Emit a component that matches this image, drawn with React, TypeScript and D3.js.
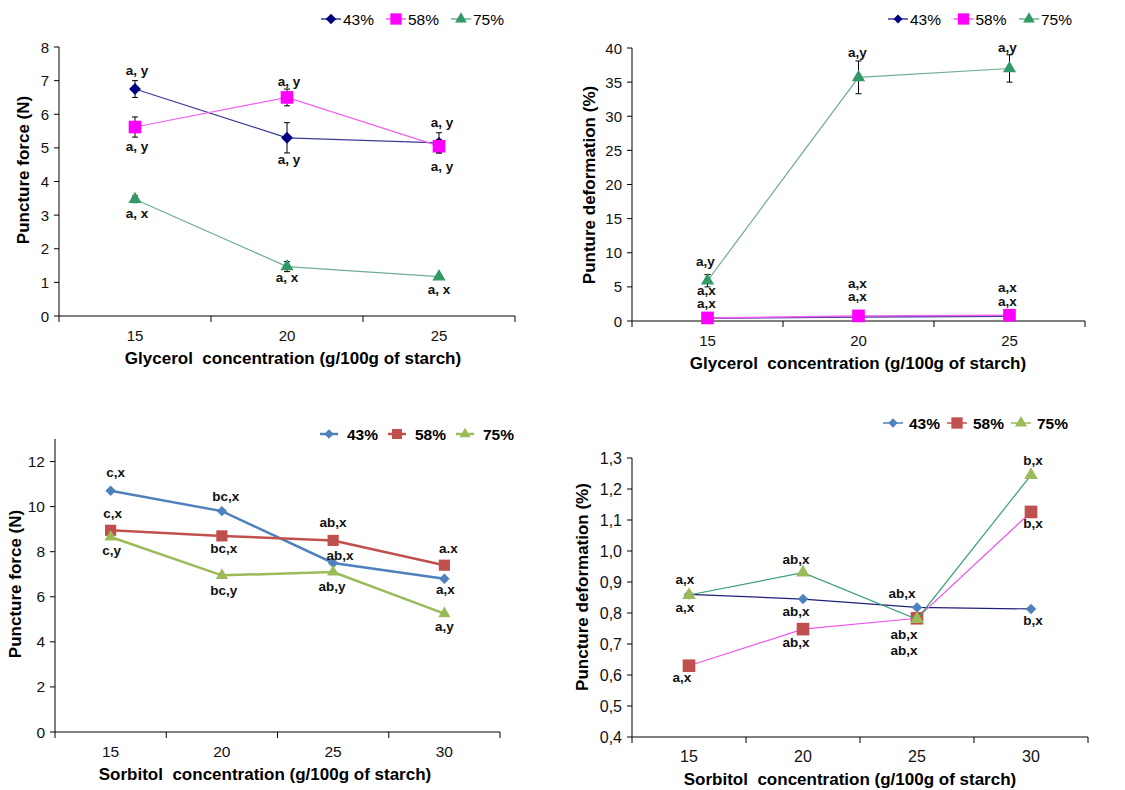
import * as d3 from "d3";

const glyCats = ["15", "20", "25"];
const sorCats = ["15", "20", "25", "30"];
const seriesNames = ["43%", "58%", "75%"];

// glycerol - puncture force (N)
const gForce43 = [6.75, 5.3, 5.15];
const gForce43Err = [0.25, 0.45, 0.3];
const gForce58 = [5.62, 6.5, 5.05];
const gForce58Err = [0.3, 0.25, 0.2];
const gForce75 = [3.47, 1.47, 1.17];
const gForce75Err = [0.1, 0.15, 0.05];

// glycerol - puncture deformation (%)
const gDef43 = [0.4, 0.6, 0.7];
const gDef58 = [0.45, 0.75, 0.85];
const gDef75 = [5.9, 35.7, 37.0];
const gDef75Err = [0.9, 2.4, 2.0];

// sorbitol - puncture force (N)
const sForce43 = [10.7, 9.8, 7.5, 6.8];
const sForce58 = [8.95, 8.7, 8.5, 7.4];
const sForce75 = [8.65, 6.95, 7.1, 5.25];

// sorbitol - puncture deformation (%)
const sDef43 = [0.86, 0.845, 0.818, 0.813];
const sDef58 = [0.63, 0.748, 0.783, 1.126];
const sDef75 = [0.858, 0.93, 0.78, 1.245];

// letters: [category, series, text, dy, dx]
const gForceLetters = [
  [0, 0, "a, y", -19, 2], [0, 1, "a, y", 19, 2], [0, 2, "a, x", 14, 2],
  [1, 1, "a, y", -16, 2], [1, 0, "a, y", 22, 2], [1, 2, "a, x", 11, 0],
  [2, 0, "a, y", -20, 3], [2, 1, "a, y", 20, 3], [2, 2, "a, x", 13, 0],
];
const gDefLetters = [
  [0, 2, "a,y", -19, -2], [0, 1, "a,x", -27, -1], [0, 1, "a,x", -14, -1],
  [1, 2, "a,y", -25, -1], [1, 1, "a,x", -32, -1], [1, 1, "a,x", -19, -1],
  [2, 2, "a,y", -21, -2], [2, 1, "a,x", -28, -2], [2, 1, "a,x", -14, -2],
];
const sForceLetters = [
  [0, 0, "c,x", -18, 5], [0, 1, "c,x", -17, 2], [0, 2, "c,y", 13, 1],
  [1, 0, "bc,x", -15, 4], [1, 1, "bc,x", 13, 2], [1, 2, "bc,y", 15, 2],
  [2, 0, "ab,x", -7, 7], [2, 1, "ab,x", -18, 0], [2, 2, "ab,y", 15, -1],
  [3, 0, "a,x", 11, 1], [3, 1, "a.x", -17, 4], [3, 2, "a,y", 13, 0],
];
const sDefLetters = [
  [0, 0, "a,x", 13, -4], [0, 1, "a,x", 12, -7], [0, 2, "a,x", -16, -4],
  [1, 0, "ab,x", 12, -7], [1, 1, "ab,x", 13, -7], [1, 2, "ab,x", -13, -7],
  [2, 0, "ab,x", -14, -15], [2, 1, "ab,x", 32, -13], [2, 2, "ab,x", 15, -13],
  [3, 0, "b,x", 12, 2], [3, 1, "b,x", 12, 2], [3, 2, "b,x", -15, 2],
];

const FONT = "'Liberation Sans', Arial, sans-serif";

function symbolPath(kind: string, size: number) {
  if (kind === "diamond") return d3.symbol().type(d3.symbolSquare).size(size)()!;
  if (kind === "square") return d3.symbol().type(d3.symbolSquare).size(size)()!;
  return d3.symbol().type(d3.symbolTriangle).size(size)()!;
}

function Marker({ kind, size, color, x, y }: any) {
  return (
    <path
      d={symbolPath(kind, size)}
      fill={color}
      transform={`translate(${x},${y})${kind === "diamond" ? " rotate(45)" : ""}`}
    />
  );
}

function Panel({ cfg }: any) {
  const x = d3.scaleBand().domain(cfg.cats).range([cfg.left, cfg.right]);
  const y = d3.scaleLinear().domain(cfg.domain).range([cfg.bottom, cfg.top]);
  const cx = (i: number) => x(cfg.cats[i])! + x.bandwidth() / 2;
  const line = d3
    .line<number>()
    .x((_, i) => cx(i))
    .y((v) => y(v));
  const edges = [...cfg.cats.map((c: string) => x(c)!), cfg.right];
  const axisTop = y(cfg.domain[1]);

  return (
    <g fontFamily={FONT}>
      {/* axes */}
      <line x1={cfg.left} x2={cfg.left} y1={axisTop} y2={cfg.bottom} stroke="#000" />
      <line x1={cfg.left} x2={cfg.right} y1={cfg.bottom} y2={cfg.bottom} stroke="#000" />
      {cfg.ticks.map((t: number) => (
        <g key={t}>
          <line x1={cfg.left - 5} x2={cfg.left} y1={y(t)} y2={y(t)} stroke="#000" />
          <text
            x={cfg.left - 10}
            y={y(t)}
            textAnchor="end"
            dominantBaseline="central"
            fontSize={cfg.tickSize}
            fill="#111"
          >
            {cfg.fmt(t)}
          </text>
        </g>
      ))}
      {edges.map((e: number, i: number) => (
        <line key={i} x1={e} x2={e} y1={cfg.bottom} y2={cfg.bottom + 6} stroke="#000" />
      ))}
      {cfg.cats.map((c: string, i: number) => (
        <text
          key={c}
          x={cx(i)}
          y={cfg.bottom + 19}
          textAnchor="middle"
          dominantBaseline="central"
          fontSize={cfg.tickSize}
          fill="#111"
        >
          {c}
        </text>
      ))}
      <text
        x={cfg.xTitleX}
        y={cfg.bottom + 42}
        textAnchor="middle"
        dominantBaseline="central"
        fontSize={17}
        fontWeight="bold"
        style={{ whiteSpace: "pre" }}
      >
        {cfg.xTitle}
      </text>
      <text
        transform={`translate(${cfg.yTitleX},${cfg.yTitleY}) rotate(-90)`}
        textAnchor="middle"
        dominantBaseline="central"
        fontSize={17}
        fontWeight="bold"
      >
        {cfg.yTitle}
      </text>

      {/* series */}
      {cfg.series.map((s: any, si: number) => (
        <g key={si}>
          <path d={line(s.values)!} fill="none" stroke={s.line} strokeWidth={s.width} />
          {s.errors &&
            s.values.map((v: number, i: number) => (
              <g key={i} stroke="#000" strokeWidth={1}>
                <line x1={cx(i)} x2={cx(i)} y1={y(v - s.errors[i])} y2={y(v + s.errors[i])} />
                <line x1={cx(i) - 3} x2={cx(i) + 3} y1={y(v - s.errors[i])} y2={y(v - s.errors[i])} />
                <line x1={cx(i) - 3} x2={cx(i) + 3} y1={y(v + s.errors[i])} y2={y(v + s.errors[i])} />
              </g>
            ))}
          {s.values.map((v: number, i: number) => (
            <Marker key={i} kind={s.symbol} size={s.size} color={s.color} x={cx(i)} y={y(v)} />
          ))}
        </g>
      ))}

      {/* letters */}
      {cfg.letters.map((l: any, i: number) => (
        <text
          key={i}
          x={cx(l[0]) + l[4]}
          y={y(cfg.series[l[1]].values[l[0]]) + l[3]}
          textAnchor="middle"
          dominantBaseline="central"
          fontSize={13.5}
          fontWeight="bold"
          fill="#111"
        >
          {l[2]}
        </text>
      ))}

      {/* legend */}
      {cfg.series.map((s: any, si: number) => {
        const lx = cfg.legend.x0 + si * cfg.legend.step;
        const ly = cfg.legend.y;
        return (
          <g key={si}>
            <line
              x1={lx - cfg.legend.half}
              x2={lx + cfg.legend.half}
              y1={ly}
              y2={ly}
              stroke={cfg.legend.lineColors ? cfg.legend.lineColors[si] : s.line}
              strokeWidth={cfg.legend.lineW}
            />
            <Marker kind={s.symbol} size={s.size * 0.8} color={s.color} x={lx} y={ly} />
            <text
              x={lx + cfg.legend.textDx}
              y={ly}
              dominantBaseline="central"
              fontSize={15.5}
              fontWeight={cfg.legend.bold ? "bold" : "normal"}
            >
              {seriesNames[si]}
            </text>
          </g>
        );
      })}
    </g>
  );
}

const comma = (t: number) => t.toFixed(1).replace(".", ",");

const panels = [
  {
    left: 59, right: 515, top: 47, bottom: 316, domain: [0, 8],
    ticks: d3.range(0, 9), fmt: (t: number) => String(t), tickSize: 15, cats: glyCats,
    xTitle: "Glycerol  concentration (g/100g of starch)", xTitleX: 293,
    yTitle: "Puncture force (N)", yTitleX: 23, yTitleY: 170,
    series: [
      { values: gForce43, errors: gForce43Err, color: "#000080", line: "#3b3b96", width: 1.2, symbol: "diamond", size: 70 },
      { values: gForce58, errors: gForce58Err, color: "#FF00FF", line: "#f060f0", width: 1.2, symbol: "square", size: 160 },
      { values: gForce75, errors: gForce75Err, color: "#339966", line: "#6cae8e", width: 1.2, symbol: "triangle", size: 75 },
    ],
    letters: gForceLetters,
    legend: { x0: 331, step: 65, y: 19, half: 10, textDx: 12, bold: false, lineW: 1.5 },
  },
  {
    left: 632, right: 1085, top: 48, bottom: 321, domain: [0, 40],
    ticks: d3.range(0, 41, 5), fmt: (t: number) => String(t), tickSize: 15, cats: glyCats,
    xTitle: "Glycerol  concentration (g/100g of starch)", xTitleX: 858,
    yTitle: "Punture deformation (%)", yTitleX: 589, yTitleY: 185,
    series: [
      { values: gDef43, color: "#000080", line: "#3b3b96", width: 1.5, symbol: "diamond", size: 50 },
      { values: gDef58, color: "#FF00FF", line: "#f060f0", width: 1.5, symbol: "square", size: 160 },
      { values: gDef75, errors: gDef75Err, color: "#339966", line: "#6cae8e", width: 1.2, symbol: "triangle", size: 75 },
    ],
    letters: gDefLetters,
    legend: { x0: 898, step: 65.5, y: 19, half: 10, textDx: 12, bold: false, lineW: 1.5 },
  },
  {
    left: 55, right: 500, top: 439, bottom: 732, domain: [0, 13],
    ticks: d3.range(0, 13, 2), fmt: (t: number) => String(t), tickSize: 15.5, cats: sorCats,
    xTitle: "Sorbitol  concentration (g/100g of starch)", xTitleX: 265,
    yTitle: "Puncture force (N)", yTitleX: 15, yTitleY: 584,
    series: [
      { values: sForce43, color: "#4F81BD", line: "#4F81BD", width: 2.5, symbol: "diamond", size: 55 },
      { values: sForce58, color: "#C0504D", line: "#C0504D", width: 2.5, symbol: "square", size: 125 },
      { values: sForce75, color: "#9BBB59", line: "#9BBB59", width: 2.5, symbol: "triangle", size: 65 },
    ],
    letters: sForceLetters,
    legend: { x0: 329, step: 68, y: 434, half: 9, textDx: 18, bold: true, lineW: 2.5 },
  },
  {
    left: 632, right: 1088, top: 458, bottom: 737, domain: [0.4, 1.3],
    ticks: d3.range(4, 14).map((t) => t / 10), fmt: comma, tickSize: 16, cats: sorCats,
    xTitle: "Sorbitol  concentration (g/100g of starch)", xTitleX: 850,
    yTitle: "Puncture deformation (%)", yTitleX: 582, yTitleY: 587,
    series: [
      { values: sDef43, color: "#4F81BD", line: "#1f1f78", width: 1.2, symbol: "diamond", size: 55 },
      { values: sDef58, color: "#C0504D", line: "#ee55ee", width: 1.2, symbol: "square", size: 160 },
      { values: sDef75, color: "#9BBB59", line: "#3a9f74", width: 1.2, symbol: "triangle", size: 80 },
    ],
    letters: sDefLetters,
    legend: {
      x0: 893, step: 64, y: 423, half: 10, textDx: 16, bold: true, lineW: 1.5,
      lineColors: ["#4F81BD", "#C0504D", "#9BBB59"],
    },
  },
];

export default function App() {
  return (
    <svg
      width={1125}
      height={790}
      style={{ position: "absolute", left: 0, top: 0, background: "#fff" }}
    >
      <rect width={1125} height={790} fill="#fff" />
      {panels.map((p, i) => (
        <Panel key={i} cfg={p} />
      ))}
    </svg>
  );
}
